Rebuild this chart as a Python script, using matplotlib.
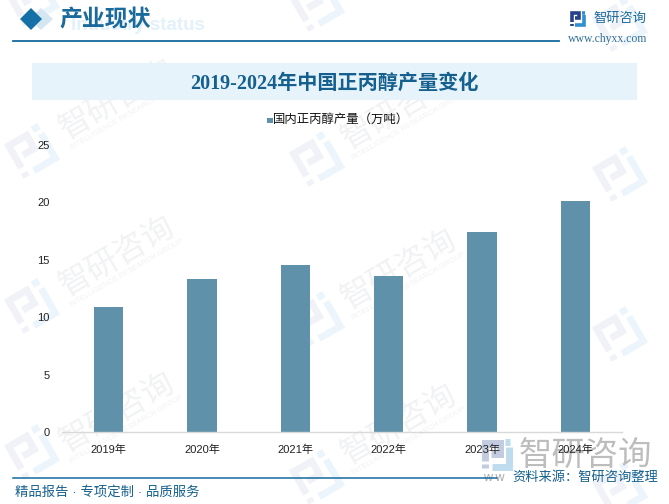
import numpy as np
import matplotlib
matplotlib.use("Agg")
import matplotlib.pyplot as plt
from matplotlib.patches import Polygon, Rectangle

# data
years = ["2019年", "2020年", "2021年", "2022年", "2023年", "2024年"]
output = [10.9, 13.35, 14.6, 13.6, 17.45, 20.15]
yticks = [0, 5, 10, 15, 20, 25]
legend_name = "国内正丙醇产量（万吨）"
title = "2019-2024年中国正丙醇产量变化"

W, H = 669, 504
CJK = ["Liberation Sans", "Noto Sans CJK SC", "DejaVu Sans"]
plt.rcParams["font.family"] = CJK

fig = plt.figure(figsize=(W / 100, H / 100), dpi=100, facecolor="white")

# background layer in pixel coordinates
bg = fig.add_axes([0, 0, 1, 1], zorder=0)
bg.set_xlim(0, W)
bg.set_ylim(H, 0)
bg.axis("off")


# logo drawn with thick strokes, size in px, angle in degrees
def logo(ax, cx, cy, size, angle, c1, c2, lw):
    a = np.radians(angle)

    def pt(u, v):
        x = (u - 0.5) * size
        y = (v - 0.5) * size
        return cx + x * np.cos(a) + y * np.sin(a), cy - x * np.sin(a) + y * np.cos(a)

    def stroke(points, c):
        xy = [pt(u, v) for u, v in points]
        ax.plot([p[0] for p in xy], [p[1] for p in xy], color=c, lw=lw,
                solid_capstyle="butt", solid_joinstyle="miter", zorder=1)

    stroke([(0.05, 0.72), (0.05, 0.05), (0.6, 0.05), (0.6, 0.45), (0.25, 0.45)], c1)
    stroke([(0.05, 0.86), (0.05, 1.0)], c1)
    stroke([(0.8, 0.0), (1.0, 0.0)], c2)
    stroke([(0.95, 0.2), (0.95, 0.95), (0.3, 0.95)], c2)


# watermark tiles
logo_pos = [(32, 0), (32, 152), (32, 307), (32, 453),
            (317, 5), (317, 160), (317, 320), (317, 478),
            (620, 25), (620, 175), (620, 335), (620, 490)]
text_pos = [(118, 100), (118, 257), (118, 413), (400, 110), (400, 270), (400, 425)]
for x, y in logo_pos:
    logo(bg, x, y, 38, 30, "#f0f2f7", "#ecf5fb", 5)
for x, y in text_pos:
    bg.text(x, y, "智研咨询", fontsize=23, color="#f1f2f4", rotation=30,
            ha="center", va="center", zorder=1)
    bg.text(x + 9, y + 16, "INTELLIGENCE RESEARCH GROUP", fontsize=5.5, color="#f2f2f5",
            rotation=30, ha="center", va="center", zorder=1)

# header
bg.text(71, 26, "Industry status", fontsize=13.5, color="#e3f1fa", weight="bold",
        ha="left", va="center", zorder=2)
bg.add_patch(Polygon([(41, 8), (53, 19), (41, 30), (29, 19)], facecolor="#d3e6f2", lw=0, zorder=3))
bg.add_patch(Polygon([(31, 8), (42, 19), (31, 30), (20, 19)], facecolor="#1570a8", lw=0, zorder=4))
bg.text(59, 20, "产业现状", fontsize=16.5, color="#1a6a9c", weight="bold", ha="left", va="center", zorder=4)
bg.plot([13, 559], [40.5, 40.5], color="#156a9e", lw=1.3, zorder=3)

logo(bg, 578, 19, 13, 0, "#27408b", "#2f8fd0", 2.6)
bg.text(593, 19, "智研咨询", fontsize=9.5, color="#1a6a9c", ha="left", va="center", zorder=4)
bg.text(568, 39, "www.chyxx.com", fontsize=8.5, color="#2f6f96", family="Liberation Serif",
        ha="left", va="center", zorder=4)

# title band
bg.add_patch(Rectangle((32, 63), 605, 37, facecolor="#e6f3fb", lw=0, zorder=2))
bg.text(334, 84, title, fontsize=14.5, color="#15608f", weight="bold",
        family=["Liberation Serif", "Noto Sans CJK SC"], ha="center", va="center", zorder=4)

# legend
bg.add_patch(Rectangle((267, 117.5), 5.5, 5.5, facecolor="#5f92aa", lw=0, zorder=4))
bg.text(273, 120, legend_name, fontsize=8.9, color="#111111", ha="left", va="center", zorder=4)

# big logo stamp under the tick labels, bottom right
logo(bg, 497, 455, 26, 0, "#c3cbe0", "#bfdcee", 5)
bg.text(519, 456, "智研咨询", fontsize=24, color="#bdbdbd", ha="left", va="center", zorder=2)
bg.text(483, 478, "w w", fontsize=9, color="#aaaaaa", ha="left", va="center", zorder=2)

# footer
bg.plot([13, 497], [477.5, 477.5], color="#156a9e", lw=1.1, zorder=3)
bg.text(15, 492, "精品报告 · 专项定制 · 品质服务", fontsize=9.6, color="#15608f",
        ha="left", va="center", zorder=4)
bg.text(512, 478, "资料来源：智研咨询整理", fontsize=9.5, color="#15608f", ha="left", va="center", zorder=4)

# bars
ax = fig.add_axes([62 / W, 1 - 432.3 / H, 560 / W, 287.3 / H], zorder=1)
ax.patch.set_alpha(0)
x = np.arange(len(years))
ax.bar(x, output, width=0.315, color="#5f92aa")
ax.set_xlim(-0.5, len(years) - 0.5)
ax.set_ylim(0, 25)
ax.set_xticks(x, years)
ax.set_yticks(yticks)
ax.tick_params(axis="both", length=0, labelsize=8, labelcolor="#222222")
ax.tick_params(axis="x", pad=9)
ax.tick_params(axis="y", pad=9)
for s in ["top", "right", "left"]:
    ax.spines[s].set_visible(False)
ax.spines["bottom"].set_color("#d9d9d9")
ax.spines["bottom"].set_linewidth(1)

fig.savefig("out.png", dpi=100)
